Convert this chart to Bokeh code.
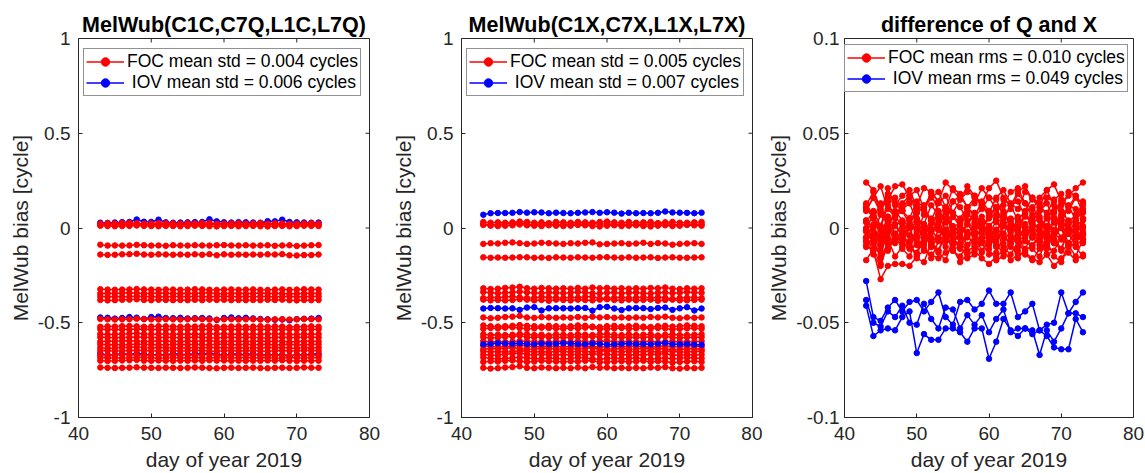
import math
from bokeh.plotting import figure
from bokeh.models import FixedTicker, Legend, LegendItem, Range1d, ColumnDataSource
from bokeh.layouts import row
from bokeh.embed import file_html
from bokeh.resources import INLINE

FONT = "Liberation Sans"
AX = "#262626"

days = list(range(43, 74))
x_ticks = [40, 50, 60, 70, 80]
titles = ["MelWub(C1C,C7Q,L1C,L7Q)", "MelWub(C1X,C7X,L1X,L7X)", "difference of Q and X"]
legend_foc = ["FOC mean std = 0.004 cycles", "FOC mean std = 0.005 cycles", "FOC mean rms = 0.010 cycles"]
legend_iov = [" IOV mean std = 0.006 cycles", " IOV mean std = 0.007 cycles", " IOV mean rms = 0.049 cycles"]

# ---- values in milli-cycles ----
q_foc = [
    [18,16,17,19,20,22,18,17,19,18,17,18,17,19,17,20,18,19,17,18,17,18,17,19,18,20,17,16,18,17,18],
    [12,10,9,10,11,13,11,10,9,11,10,9,10,12,11,9,8,10,11,9,10,11,9,8,10,11,9,10,12,11,10],
    [23,25,24,26,27,25,23,24,26,25,24,23,25,24,26,27,22,23,24,25,23,24,26,23,25,24,21,23,24,25,23],
    [-88,-93,-92,-93,-92,-89,-91,-93,-92,-94,-91,-92,-93,-91,-92,-93,-91,-90,-92,-93,-91,-93,-92,-91,-94,-92,-91,-95,-93,-91,-90],
    [-140,-142,-141,-139,-138,-136,-140,-141,-139,-140,-141,-140,-141,-139,-141,-138,-144,-139,-141,-140,-141,-140,-141,-139,-140,-138,-144,-145,-143,-143,-140],
    [-323,-325,-326,-325,-324,-322,-324,-325,-326,-324,-325,-326,-325,-323,-324,-326,-327,-325,-324,-326,-325,-324,-326,-327,-325,-324,-326,-325,-323,-324,-325],
    [-346,-344,-345,-343,-342,-344,-346,-345,-343,-344,-345,-346,-344,-345,-343,-342,-347,-346,-345,-344,-346,-345,-343,-346,-344,-345,-348,-346,-345,-344,-346],
    [-361,-363,-362,-363,-362,-360,-361,-363,-362,-364,-361,-362,-363,-361,-362,-363,-361,-360,-362,-363,-361,-363,-362,-361,-364,-362,-361,-363,-363,-362,-361],
    [-380,-382,-381,-379,-378,-376,-380,-381,-379,-380,-381,-380,-381,-379,-381,-378,-380,-379,-381,-380,-381,-380,-381,-379,-380,-378,-381,-382,-380,-381,-380],
    [-480,-482,-483,-482,-481,-479,-481,-482,-483,-481,-482,-483,-482,-480,-481,-483,-484,-482,-481,-483,-482,-481,-483,-484,-482,-481,-483,-482,-480,-481,-482],
    [-521,-519,-520,-518,-517,-519,-521,-520,-518,-519,-520,-521,-519,-520,-518,-517,-522,-521,-520,-519,-521,-520,-518,-521,-519,-520,-523,-521,-520,-519,-521],
    [-534,-536,-535,-536,-535,-533,-534,-536,-535,-537,-534,-535,-536,-534,-535,-536,-534,-533,-535,-536,-534,-536,-535,-534,-537,-535,-534,-536,-536,-535,-534],
    [-560,-562,-561,-559,-558,-556,-560,-561,-559,-560,-561,-560,-561,-559,-561,-558,-560,-559,-561,-560,-561,-560,-561,-559,-560,-558,-561,-562,-560,-561,-560],
    [-576,-578,-579,-578,-577,-575,-577,-578,-579,-577,-578,-579,-578,-576,-577,-579,-580,-578,-577,-579,-578,-577,-579,-580,-578,-577,-579,-578,-576,-577,-578],
    [-599,-597,-598,-596,-595,-597,-599,-598,-596,-597,-598,-599,-597,-598,-596,-595,-600,-599,-598,-597,-599,-598,-596,-599,-597,-598,-601,-599,-598,-597,-599],
    [-614,-616,-615,-616,-615,-613,-614,-616,-615,-617,-614,-615,-616,-614,-615,-616,-614,-613,-615,-616,-614,-616,-615,-614,-617,-615,-614,-616,-616,-615,-614],
    [-632,-634,-633,-631,-630,-628,-632,-633,-631,-632,-633,-632,-633,-631,-633,-630,-632,-631,-633,-632,-633,-632,-633,-631,-632,-630,-633,-634,-632,-633,-632],
    [-646,-648,-649,-648,-647,-645,-647,-648,-649,-647,-648,-649,-648,-646,-647,-649,-650,-648,-647,-649,-648,-647,-649,-650,-648,-647,-649,-648,-646,-647,-648],
    [-671,-669,-670,-668,-667,-669,-671,-670,-668,-669,-670,-671,-669,-670,-668,-667,-672,-671,-670,-669,-671,-670,-668,-671,-669,-670,-673,-671,-670,-669,-671],
    [-684,-686,-685,-686,-685,-683,-684,-686,-685,-687,-684,-685,-686,-684,-685,-686,-684,-683,-685,-686,-684,-686,-685,-684,-687,-685,-684,-686,-686,-685,-684],
    [-700,-702,-701,-699,-698,-696,-700,-701,-699,-700,-701,-700,-701,-699,-701,-698,-700,-699,-701,-700,-701,-700,-701,-699,-700,-698,-701,-702,-700,-701,-700],
    [-736,-738,-739,-738,-737,-735,-737,-738,-739,-737,-738,-739,-738,-736,-737,-739,-740,-738,-737,-739,-738,-737,-739,-740,-738,-737,-739,-738,-736,-737,-738],
]
q_iov = [
    [28,27,29,31,32,45,33,32,44,30,28,29,30,31,32,46,35,30,29,31,30,29,28,36,35,44,32,30,29,28,29],
    [-472,-474,-478,-475,-470,-473,-480,-470,-468,-475,-476,-474,-477,-476,-475,-477,-485,-475,-472,-476,-474,-477,-480,-482,-484,-483,-487,-481,-479,-478,-475],
    [-662,-672,-668,-664,-668,-662,-666,-670,-668,-671,-662,-667,-668,-664,-665,-662,-666,-671,-665,-666,-668,-664,-670,-669,-672,-668,-678,-668,-670,-666,-664],
]

x_foc = [
    [32,28,30,28,30,34,32,28,30,26,32,30,28,32,30,28,32,34,30,28,32,28,30,32,26,30,32,28,28,30,32],
    [20,16,18,22,24,28,20,18,22,20,18,20,18,22,18,24,20,22,18,20,18,20,18,22,20,24,18,16,20,18,20],
    [16,12,10,12,14,18,14,12,10,14,12,10,12,16,14,10,8,12,14,10,12,14,10,8,12,14,10,12,16,14,12],
    [-84,-80,-82,-78,-76,-80,-84,-82,-78,-80,-82,-84,-80,-82,-78,-76,-86,-84,-82,-80,-84,-82,-78,-84,-80,-82,-88,-84,-82,-80,-84],
    [-155,-157,-156,-157,-156,-154,-155,-157,-156,-158,-155,-156,-157,-155,-156,-157,-155,-154,-156,-157,-155,-157,-156,-155,-158,-156,-155,-157,-157,-156,-155],
    [-318,-322,-320,-316,-314,-310,-318,-320,-316,-318,-320,-318,-320,-316,-320,-314,-318,-316,-320,-318,-320,-318,-320,-316,-318,-314,-320,-322,-318,-320,-318],
    [-338,-342,-344,-342,-340,-336,-340,-342,-344,-340,-342,-344,-342,-338,-340,-344,-346,-342,-340,-344,-342,-340,-344,-346,-342,-340,-344,-342,-338,-340,-342],
    [-370,-366,-368,-364,-362,-366,-370,-368,-364,-366,-368,-370,-366,-368,-364,-362,-372,-370,-368,-366,-370,-368,-364,-370,-366,-368,-374,-370,-368,-366,-370],
    [-378,-382,-380,-382,-380,-376,-378,-382,-380,-384,-378,-380,-382,-378,-380,-382,-378,-376,-380,-382,-378,-382,-380,-378,-384,-380,-378,-382,-382,-380,-378],
    [-472,-476,-474,-470,-468,-464,-472,-474,-470,-472,-474,-472,-474,-470,-474,-468,-472,-470,-474,-472,-474,-472,-474,-470,-472,-468,-474,-476,-472,-474,-472],
    [-514,-518,-520,-518,-516,-512,-516,-518,-520,-516,-518,-520,-518,-514,-516,-520,-522,-518,-516,-520,-518,-516,-520,-522,-518,-516,-520,-518,-514,-516,-518],
    [-532,-528,-530,-526,-524,-528,-532,-530,-526,-528,-530,-532,-528,-530,-526,-524,-534,-532,-530,-528,-532,-530,-526,-532,-528,-530,-536,-532,-530,-528,-532],
    [-561,-565,-563,-565,-563,-559,-561,-565,-563,-567,-561,-563,-565,-561,-563,-565,-561,-559,-563,-565,-561,-565,-563,-561,-567,-563,-561,-565,-565,-563,-561],
    [-576,-580,-578,-574,-572,-568,-576,-578,-574,-576,-578,-576,-578,-574,-578,-572,-576,-574,-578,-576,-578,-576,-578,-574,-576,-572,-578,-580,-576,-578,-576],
    [-598,-602,-600,-602,-600,-596,-598,-602,-600,-604,-598,-600,-602,-598,-600,-602,-598,-596,-600,-602,-598,-602,-600,-598,-604,-600,-598,-602,-602,-600,-598],
    [-621,-625,-627,-625,-623,-619,-623,-625,-627,-623,-625,-627,-625,-621,-623,-627,-629,-625,-623,-627,-625,-623,-627,-629,-625,-623,-627,-625,-621,-623,-625],
    [-640,-636,-638,-634,-632,-636,-640,-638,-634,-636,-638,-640,-636,-638,-634,-632,-642,-640,-638,-636,-640,-638,-634,-640,-636,-638,-644,-640,-638,-636,-640],
    [-650,-654,-652,-654,-652,-648,-650,-654,-652,-656,-650,-652,-654,-650,-652,-654,-650,-648,-652,-654,-650,-654,-652,-650,-656,-652,-650,-654,-654,-652,-650],
    [-668,-672,-670,-666,-664,-660,-668,-670,-666,-668,-670,-668,-670,-666,-670,-664,-668,-666,-670,-668,-670,-668,-670,-666,-668,-664,-670,-672,-668,-670,-668],
    [-684,-688,-690,-688,-686,-682,-686,-688,-690,-686,-688,-690,-688,-684,-686,-690,-692,-688,-686,-690,-688,-686,-690,-692,-688,-686,-690,-688,-684,-686,-688],
    [-707,-703,-705,-701,-699,-703,-707,-705,-701,-703,-705,-707,-703,-705,-701,-699,-709,-707,-705,-703,-707,-705,-701,-707,-703,-705,-711,-707,-705,-703,-707],
    [-738,-742,-740,-736,-734,-730,-738,-740,-736,-738,-740,-738,-740,-736,-740,-734,-738,-736,-740,-738,-740,-738,-740,-736,-738,-734,-740,-742,-738,-740,-738],
]
x_iov = [
    [70,78,79,79,80,84,81,83,82,78,81,79,78,80,82,84,80,83,81,76,80,78,79,78,80,87,82,81,80,78,81],
    [-425,-422,-423,-425,-424,-432,-420,-418,-435,-424,-423,-424,-425,-423,-422,-436,-418,-416,-425,-433,-424,-422,-423,-428,-422,-420,-432,-424,-418,-435,-425],
    [-614,-612,-608,-610,-611,-608,-612,-613,-610,-612,-611,-608,-610,-612,-614,-610,-612,-615,-614,-612,-610,-613,-612,-614,-611,-607,-613,-614,-612,-615,-616],
]

d_foc = [
    [24,20,10,15,22,23,16,12,21,19,14,24,20,15,22,17,13,21,25,16,12,19,22,15,11,20,23,14,17,21,24],
    [12,19,8,18,13,9,17,20,10,16,19,11,8,15,19,17,12,8,16,20,13,10,19,16,11,8,15,18,9,16,13],
    [13,6,0,12,16,9,5,14,11,4,13,17,8,5,11,16,12,6,7,15,12,4,9,16,13,6,8,15,11,5,14],
    [3,9,1,14,5,10,13,4,2,12,7,3,14,11,4,6,14,9,3,5,12,14,6,3,9,13,5,2,12,10,5],
    [11,5,13,0,9,4,1,10,12,2,7,11,0,3,10,8,0,5,11,9,2,0,8,11,5,1,9,12,2,4,9],
    [10,6,-4,1,8,9,2,-2,7,5,0,10,6,1,8,3,-1,7,11,2,-2,5,8,1,-3,6,9,0,3,7,10],
    [0,7,-4,6,1,-3,5,8,-2,4,7,-1,-4,3,7,5,0,-4,4,8,1,-2,7,4,-1,-4,3,6,-3,4,1],
    [4,-3,-9,3,7,0,-4,5,2,-5,4,8,-1,-4,2,7,3,-3,-2,6,3,-5,0,7,4,-3,-1,6,2,-4,5],
    [-5,1,-7,6,-3,2,5,-4,-6,4,-1,-5,6,3,-4,-2,6,1,-5,-3,4,6,-2,-5,1,5,-3,-6,4,2,-3],
    [-7,-3,7,2,-5,-6,1,5,-4,-2,3,-7,-3,2,-5,0,4,-4,-8,1,5,-2,-5,2,6,-3,-6,3,0,-4,-7],
    [4,0,-10,-5,2,3,-4,-8,1,-1,-6,4,0,-5,2,-3,-7,1,5,-4,-8,-1,2,-5,-9,0,3,-6,-3,1,4],
    [-5,2,-9,1,-4,-8,0,3,-7,-1,2,-6,-9,-2,2,0,-5,-9,-1,3,-4,-7,2,-1,-6,-9,-2,1,-8,-1,-4],
    [-1,-8,-14,-2,2,-5,-9,0,-3,-10,-1,3,-6,-9,-3,2,-2,-8,-7,1,-2,-10,-5,2,-1,-8,-6,1,-3,-9,0],
    [-10,-4,-12,1,-8,-3,0,-9,-11,-1,-6,-10,1,-2,-9,-7,1,-4,-10,-8,-1,1,-7,-10,-4,0,-8,-11,-1,-3,-8],
    [-5,-12,-1,-11,-6,-2,-10,-13,-3,-9,-12,-4,-1,-8,-12,-10,-5,-1,-9,-13,-6,-3,-12,-9,-4,-1,-8,-11,-2,-9,-6],
    [-2,-6,-16,-11,-4,-3,-10,-14,-5,-7,-12,-2,-6,-11,-4,-9,-13,-5,-1,-10,-14,-7,-4,-11,-15,-6,-3,-12,-9,-5,-2],
    [-7,-14,-20,-8,-4,-11,-15,-6,-9,-16,-7,-3,-12,-15,-9,-4,-8,-14,-13,-5,-8,-16,-11,-4,-7,-14,-12,-5,-9,-15,-6],
    [-17,-11,-19,-6,-15,-10,-7,-16,-18,-8,-13,-17,-6,-9,-16,-14,-6,-11,-17,-15,-8,-6,-14,-17,-11,-7,-15,-18,-8,-10,-15],
    [-9,-12,-27,-20,-19,-19,-20,-15,-12,-14,-16,-13,-11,-18,-14,-12,-16,-19,-15,-12,-17,-14,-13,-16,-18,-14,-20,-16,-13,-17,-14],
    [10,16,8,21,12,17,20,11,9,19,14,10,21,18,11,13,21,16,10,12,19,21,13,10,16,20,12,9,19,17,12],
    [9,16,22,10,6,13,17,8,11,18,9,5,14,17,11,6,10,16,15,7,10,18,13,6,9,16,14,7,11,17,8],
    [-1,-7,1,-12,-3,-8,-11,-2,0,-10,-5,-1,-12,-9,-2,-4,-12,-7,-1,-3,-10,-12,-4,-1,-7,-11,-3,0,-10,-8,-3],
]
d_iov = [
    [-28,-47,-49,-42,-38,-44,-39,-38,-44,-39,-34,-47,-51,-39,-38,-43,-40,-33,-40,-40,-34,-47,-44,-40,-54,-51,-50,-34,-45,-39,-34],
    [-38,-50,-52,-44,-47,-41,-50,-51,-40,-48,-53,-42,-43,-53,-46,-51,-46,-55,-48,-43,-55,-53,-53,-54,-67,-54,-60,-53,-45,-45,-47],
    [-41,-57,-54,-53,-54,-47,-44,-66,-56,-59,-59,-53,-53,-55,-60,-53,-53,-69,-60,-48,-54,-57,-53,-56,-54,-57,-63,-64,-64,-48,-55],
]

y_ticks_main = [-1, -0.5, 0, 0.5, 1]
y_labels_main = ["-1", "-0.5", "0", "0.5", "1"]
y_ticks_diff = [-0.1, -0.05, 0, 0.05, 0.1]
y_labels_diff = ["-0.1", "-0.05", "0", "0.05", "0.1"]


def style_axis(ax, ticks, standoff):
    ax.ticker = FixedTicker(ticks=ticks)
    ax.minor_tick_line_color = None
    ax.major_tick_in = 4
    ax.major_tick_out = 0
    ax.major_tick_line_color = AX
    ax.axis_line_color = None
    ax.major_label_text_font = FONT
    ax.major_label_text_color = AX
    ax.major_label_text_font_size = "19px"
    ax.major_label_standoff = standoff
    ax.axis_label_text_font = FONT
    ax.axis_label_text_font_size = "21px"
    ax.axis_label_text_font_style = "normal"
    ax.axis_label_text_color = AX


def make_panel(idx, foc, iov, yr, yticks, ylabels, width, bl, br, leg_xy, blue_on_top, ystandoff):
    p = figure(width=width, height=473, x_range=Range1d(40, 80), y_range=Range1d(*yr),
               output_backend="svg", toolbar_location=None,
               min_border_left=bl, min_border_right=br, min_border_top=38, min_border_bottom=55)
    p.outline_line_color = AX
    p.outline_line_width = 1
    p.grid.visible = False
    p.title.text = titles[idx]
    p.title.align = "center"
    p.title.text_font = FONT
    p.title.text_font_size = "21.5px"
    p.title.text_font_style = "bold"
    p.title.text_color = "black"
    p.title.standoff = 4

    xa = p.xaxis[0]
    style_axis(xa, x_ticks, 9)
    xa.axis_label = "day of year 2019"
    xa.major_label_text_line_height = 1.0
    xa.axis_label_text_line_height = 1.0
    xa.axis_label_standoff = 5
    ya = p.yaxis[0]
    style_axis(ya, yticks, ystandoff)
    ya.axis_label = "MelWub bias [cycle]"
    ya.axis_label_standoff = 3
    ya.major_label_overrides = {t: l for t, l in zip(yticks, ylabels)}

    # inward tick marks on the top and right sides of the box
    p.ray(x=x_ticks, y=[yr[1]] * len(x_ticks), length=4, length_units="screen",
          angle=-math.pi / 2, line_color=AX, line_width=1)
    p.ray(x=[x_ticks[-1]] * len(yticks), y=yticks, length=4, length_units="screen",
          angle=math.pi, line_color=AX, line_width=1)

    def draw(series, color):
        out = []
        for s in series:
            src = ColumnDataSource(dict(x=days, y=[v / 1000 for v in s]))
            ln = p.line("x", "y", source=src, line_color=color, line_width=1.5)
            mk = p.scatter("x", "y", source=src, size=5.5, fill_color=color, line_color=color)
            out.append([ln, mk])
        return out

    if blue_on_top:
        red = draw(foc, "#ff0000")
        blue = draw(iov, "#0000ff")
    else:
        blue = draw(iov, "#0000ff")
        red = draw(foc, "#ff0000")

    legend = Legend(items=[
        LegendItem(label=legend_foc[idx], renderers=red[0]),
        LegendItem(label=legend_iov[idx], renderers=blue[0]),
    ], location=leg_xy)
    legend.border_line_color = AX
    legend.border_line_width = 1
    legend.background_fill_color = "white"
    legend.background_fill_alpha = 1
    legend.label_text_font = FONT
    legend.label_text_font_size = "17.5px"
    legend.label_text_color = "black"
    legend.glyph_width = 38
    legend.glyph_height = 21
    legend.label_height = 21
    legend.label_standoff = 3
    legend.padding = 2
    legend.spacing = 0
    legend.margin = 0
    p.add_layout(legend)
    return p


p1 = make_panel(0, q_foc, q_iov, (-1, 1), y_ticks_main, y_labels_main, 381, 78, 12, (5, 321), False, 8)
p2 = make_panel(1, x_foc, x_iov, (-1, 1), y_ticks_main, y_labels_main, 381, 80, 10, (5, 321), True, 8)
p3 = make_panel(2, d_foc, d_iov, (-0.1, 0.1), y_ticks_diff, y_labels_diff, 383, 82, 12, (0, 325), True, 5)

layout = row(p1, p2, p3)
open("out.html", "w").write(file_html(layout, INLINE))
